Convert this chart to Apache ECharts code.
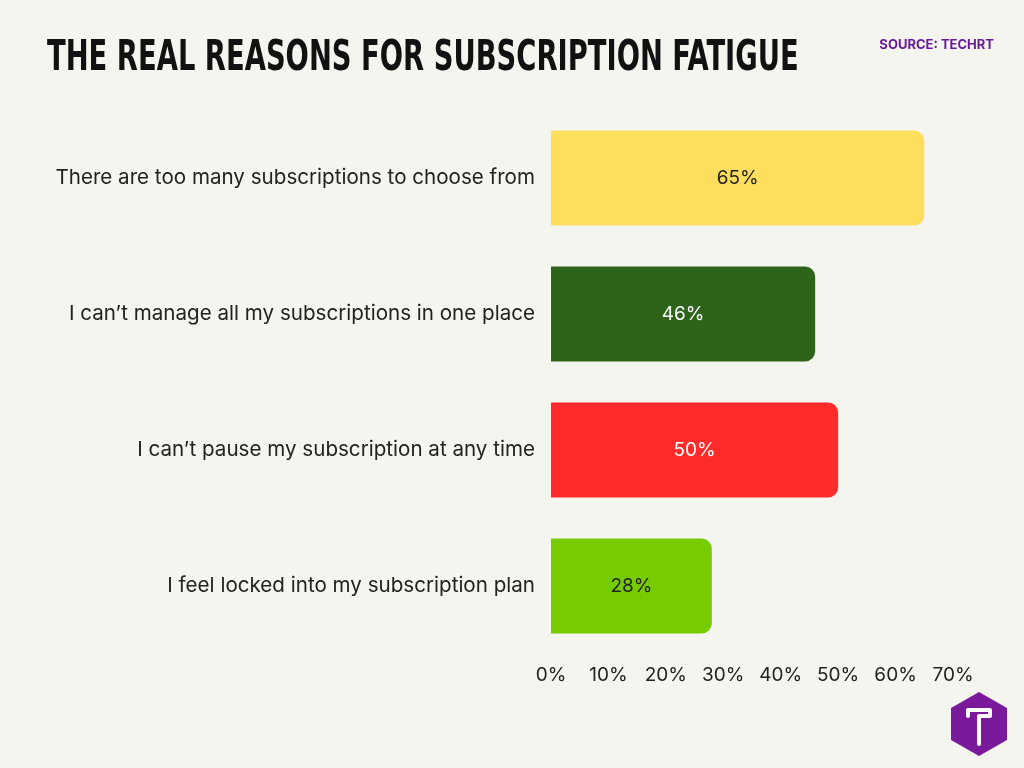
<!DOCTYPE html>
<html style="height: 100%">
<head>
	<meta charset="utf-8">
</head>
<body style="height: 100%; margin: 0; background: #f5f5f0">
<div id="container" style="height: 100%"></div>
<script type="text/javascript" src="https://cdn.jsdelivr.net/npm/echarts@6/dist/echarts.min.js"></script>
<script type="text/javascript">
    var categories = [
        'There are too many subscriptions to choose from',
        'I can\u2019t manage all my subscriptions in one place',
        'I can\u2019t pause my subscription at any time',
        'I feel locked into my subscription plan'
    ];
    var values = [65, 46, 50, 28];
    var colors = ['#fede5d', '#2e6419', '#ff2a2a', '#76cc00'];
    var labelColors = ['#222', '#fff', '#fff', '#222'];

    var myChart = echarts.init(document.getElementById('container'));
    var option = {
        backgroundColor: '#f5f5f0',
        textStyle: { fontFamily: 'Inter' },
        title: [{
            text: 'SOURCE: TECHRT',
            right: 25, top: 34,
            textStyle: { fontFamily: 'Inter', fontWeight: 'bold', fontSize: 13, color: '#6a1b9a' }
        }],
        grid: { left: 551, width: 402, top: 110, height: 544 },
        xAxis: {
            type: 'value', min: 0, max: 70, interval: 10,
            axisLabel: { formatter: '{value}%', fontSize: 19, color: '#222', margin: 12 },
            splitLine: { show: false }, axisLine: { show: false }, axisTick: { show: false }
        },
        yAxis: {
            type: 'category', inverse: true, data: categories,
            axisLabel: { fontSize: 20.6, color: '#222', margin: 16 },
            axisLine: { show: false }, axisTick: { show: false }
        },
        series: [{
            type: 'bar', barWidth: 95,
            data: values.map(function (v, i) {
                return {
                    value: v,
                    itemStyle: { color: colors[i], borderRadius: [0, 10, 10, 0] },
                    label: { color: labelColors[i] }
                };
            }),
            label: { show: true, position: 'inside', formatter: '{c}%', fontSize: 19 }
        }],
        graphic: [{
            type: 'text', x: 47, y: 38, scaleX: 0.725,
            style: {
                text: 'THE REAL REASONS FOR SUBSCRIPTION FATIGUE',
                font: 'bold 42px "DejaVu Sans Condensed"', fill: '#111'
            }
        }, {
            type: 'group', left: 951, top: 692,
            children: [{
                type: 'polygon',
                shape: { points: [[28, 0], [56, 16], [56, 48], [28, 64], [0, 48], [0, 16]] },
                style: { fill: '#7a1a9a' }
            }, {
                type: 'polyline',
                shape: { points: [[17, 24], [17, 18], [39, 18], [39, 24], [28, 24], [28, 52]] },
                style: { stroke: '#fff', lineWidth: 4, fill: null, lineJoin: 'round', lineCap: 'round' }
            }]
        }]
    };
    myChart.setOption(option);
</script>
</body>
</html>
